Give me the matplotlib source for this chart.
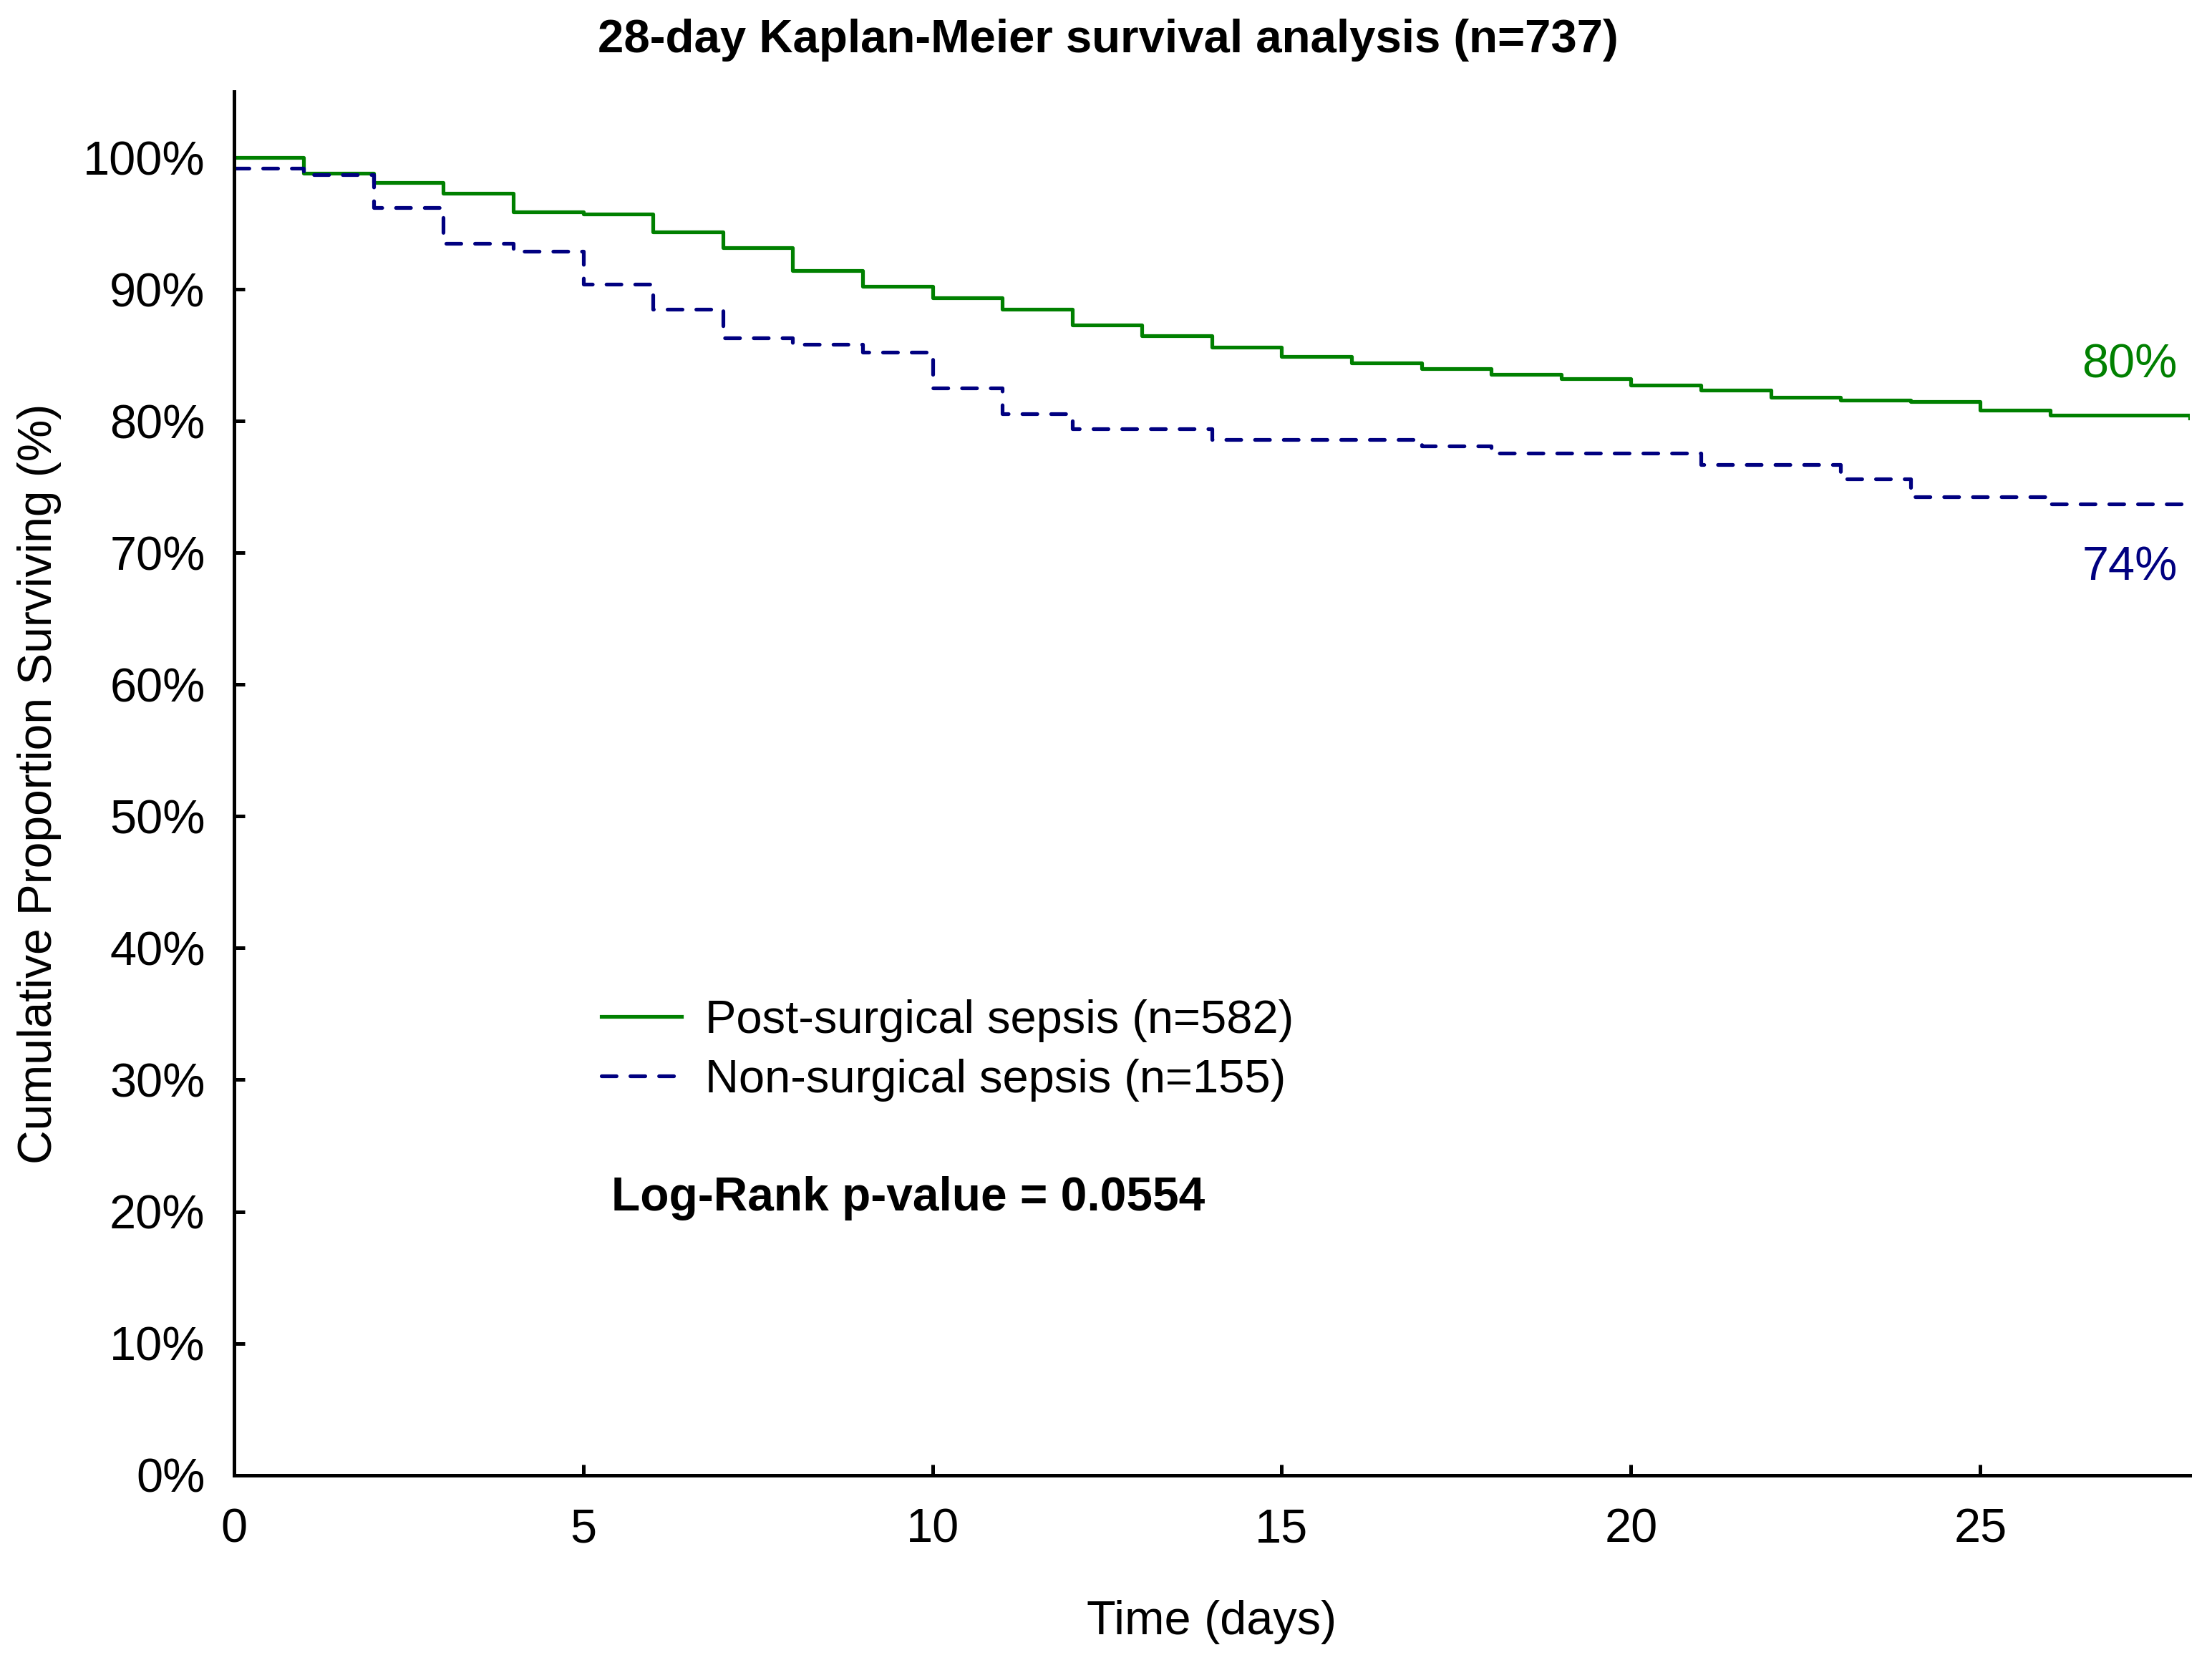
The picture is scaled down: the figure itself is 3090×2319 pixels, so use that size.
import matplotlib
matplotlib.use('Agg')
import matplotlib.pyplot as plt
import numpy as np

# days (start of each interval) and survival (%)
days = list(range(0, 29))
post_surgical = [100.0, 98.8, 98.1, 97.3, 95.9, 95.7, 94.35, 93.15, 91.4, 90.2,
                 89.35, 88.5, 87.3, 86.5, 85.6, 84.9, 84.4, 84.0, 83.55, 83.2,
                 82.7, 82.35, 81.8, 81.6, 81.45, 80.8, 80.45, 80.45, 80.25]
non_surgical = [99.2, 98.7, 96.2, 93.5, 92.9, 90.4, 88.5, 86.3, 85.8, 85.2,
                82.5, 80.55, 79.4, 79.4, 78.6, 78.6, 78.6, 78.1, 77.55, 77.55,
                77.55, 76.7, 76.7, 75.6, 74.25, 74.25, 73.7, 73.7, 73.7]

labels = ['Post-surgical sepsis (n=582)', 'Non-surgical sepsis (n=155)']
end_labels = ['80%', '74%']
end_label_y = [84.2, 68.85]
y_ticks = list(range(0, 101, 10))
x_ticks = [0, 5, 10, 15, 20, 25]

green = '#008000'
navy = '#000080'

plt.rcParams['font.family'] = ['Liberation Sans', 'DejaVu Sans']

fig = plt.figure(figsize=(10.3, 7.73), dpi=300)
ax = fig.add_axes([0.1057, 0.1114, 0.990 - 0.1057, 0.9448 - 0.1114])

ax.step(days, post_surgical, where='post', color=green, lw=1.25, label=labels[0])
ax.step(days, non_surgical, where='post', color=navy, lw=1.25,
        linestyle=(0, (4.0, 3.7)), dash_capstyle='round', label=labels[1])

ax.set_xlim(0, 28)
ax.set_ylim(0, 105)
ax.set_xticks(x_ticks)
ax.set_yticks(y_ticks)
ax.set_yticklabels([f'{t}%' for t in y_ticks])
ax.tick_params(direction='in', length=3.6, width=1.2, labelsize=16, color='black')
ax.tick_params(axis='y', pad=9.6)
ax.tick_params(axis='x', pad=11)

for s in ['top', 'right']:
    ax.spines[s].set_visible(False)
for s in ['left', 'bottom']:
    ax.spines[s].set_linewidth(1.2)

# end-of-follow-up percentages
ax.text(27.82, end_label_y[0], end_labels[0], color=green, fontsize=16, ha='right', va='center')
ax.text(27.82, end_label_y[1], end_labels[1], color=navy, fontsize=16, ha='right', va='center')

ax.legend(loc='center left', bbox_to_anchor=(0.188, 0.307), frameon=False, fontsize=15.6,
          handlelength=1.72, handletextpad=0.5, labelspacing=0.36, borderpad=0, borderaxespad=0)

ax.text(5.4, 21.0, 'Log-Rank p-value = 0.0554', fontsize=15.8, fontweight='bold',
        ha='left', va='center')

ax.set_xlabel('Time (days)', fontsize=16)
ax.xaxis.set_label_coords(0.5, -0.106)
ax.xaxis.label.set_va('center')
ax.set_ylabel('Cumulative Proportion Surviving (%)', fontsize=15.8)
ax.yaxis.set_label_coords(-0.0995, 0.5)
ax.yaxis.label.set_va('center')

fig.suptitle('28-day Kaplan-Meier survival analysis (n=737)', fontsize=15.7,
             fontweight='bold', x=0.501, y=0.976, va='center')

plt.savefig('out.png', dpi=300)
